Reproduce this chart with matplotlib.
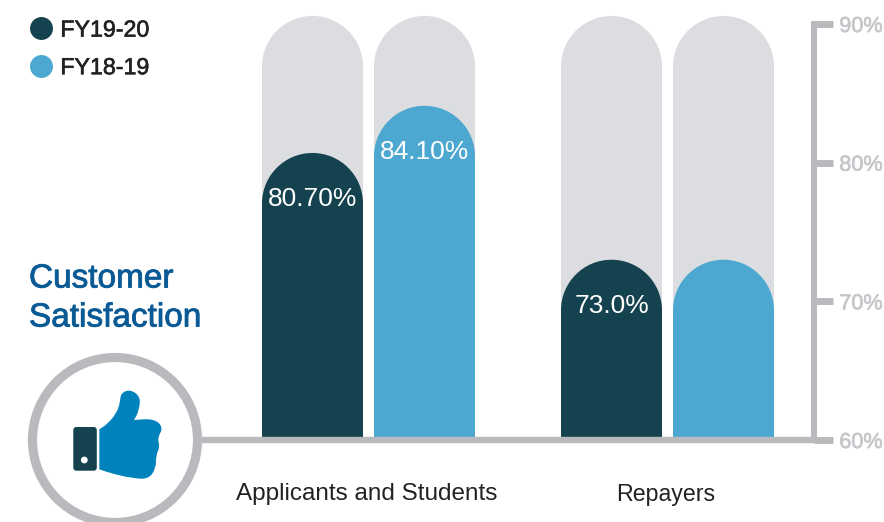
"""Customer satisfaction by borrower group, two fiscal years, on a 60-90% axis."""
import matplotlib; matplotlib.use("Agg")
import matplotlib.pyplot as plt
import matplotlib.patheffects as pe
from matplotlib.lines import Line2D
from matplotlib.patches import Circle, FancyBboxPatch, PathPatch
from matplotlib.path import Path

plt.rcParams["font.family"] = ["Liberation Sans", "DejaVu Sans"]

SERIES = ["FY19-20", "FY18-19"]
GROUPS = ["Applicants and Students", "Repayers"]
FY1920 = [80.7, 73.0]
FY1819 = [84.1, 73.0]
LABELS_1920 = ["80.70%", "73.0%"]
LABELS_1819 = ["84.10%", ""]
TICKS = [60, 70, 80, 90]
TICK_LABELS = ["60%", "70%", "80%", "90%"]

DARK, LIGHT, TRACK = "#14434f", "#4ca8d0", "#dcdde0"
AXIS, AXIS_TXT, TITLE, THUMB = "#b9babe", "#c6c7ca", "#0a5a96", "#0082bd"
W, H = 884, 522
Y0, Y1 = 440, 24  # pixel rows of the 60% and 90% ticks
BAR_LEFT = [[262, 561], [374, 673]]
BAR_W = 101
TRACK_TOP = 90.58


def rounded_bar(x0, width, top, ry, base=60):
    # bar with a fully round cap, ry is the cap radius in y units
    r, k = width / 2, 0.5523
    x1, xm, ys = x0 + width, x0 + width / 2, top - ry
    verts = [(x0, base), (x0, ys),
             (x0, ys + k * ry), (xm - k * r, top), (xm, top),
             (xm + k * r, top), (x1, ys + k * ry), (x1, ys),
             (x1, base), (x0, base)]
    codes = [Path.MOVETO, Path.LINETO] + [Path.CURVE4] * 6 + [Path.LINETO, Path.CLOSEPOLY]
    return Path(verts, codes)


def smooth(points):
    # quadratic spline through the midpoints of a closed outline
    n = len(points)
    mid = lambda a, b: ((a[0] + b[0]) / 2, (a[1] + b[1]) / 2)
    verts, codes = [mid(points[-1], points[0])], [Path.MOVETO]
    for i in range(n):
        verts += [points[i], mid(points[i], points[(i + 1) % n])]
        codes += [Path.CURVE3, Path.CURVE3]
    return Path(verts, codes)


def medium(txt, width=0.45):
    # Liberation has no medium weight, thicken the regular slightly
    txt.set_path_effects([pe.withStroke(linewidth=width, foreground=txt.get_color())])


fig = plt.figure(figsize=(W / 100, H / 100), dpi=100, facecolor="white")

# chart axes: x runs in pixels, y in percent
ax = fig.add_axes([0, (H - Y0) / H, 1, (Y0 - Y1) / H])
ax.set_xlim(0, W); ax.set_ylim(60, 90)
ax.patch.set_visible(False)
ry = (BAR_W / 2) * 30 / (Y0 - Y1)

for lefts, vals, labels, col in zip(BAR_LEFT, [FY1920, FY1819], [LABELS_1920, LABELS_1819], [DARK, LIGHT]):
    for x0, v, lab in zip(lefts, vals, labels):
        ax.add_patch(PathPatch(rounded_bar(x0, BAR_W, TRACK_TOP, ry), fc=TRACK, ec="none", clip_on=False, zorder=1))
        ax.add_patch(PathPatch(rounded_bar(x0, BAR_W, v, ry), fc=col, ec="none", clip_on=False, zorder=2))
        if lab:
            ax.annotate(lab, (x0 + BAR_W / 2, v), xytext=(0, -33), textcoords="offset points",
                        ha="center", va="center", color="white", fontsize=19, zorder=3)

for s in ["top", "left"]:
    ax.spines[s].set_visible(False)
ax.spines["right"].set_position(("data", 814))
ax.spines["right"].set_linewidth(4.3); ax.spines["right"].set_color(AXIS)
ax.spines["right"].set_bounds(60, 90)
ax.spines["bottom"].set_linewidth(4.6); ax.spines["bottom"].set_color(AXIS)
ax.spines["bottom"].set_bounds(200, 814)
ax.yaxis.tick_right()
ax.set_yticks(TICKS); ax.set_yticklabels(TICK_LABELS)
ax.tick_params(axis="y", direction="out", length=13.7, width=5, color=AXIS, pad=4.5,
               labelcolor=AXIS_TXT, labelsize=15.6)
for tl in ax.get_yticklabels():
    medium(tl, 0.5)

ax.set_xticks([BAR_LEFT[0][0] + 105, BAR_LEFT[0][1] + 105])
ax.set_xticklabels(GROUPS, color="#222222")
ax.tick_params(axis="x", length=0, pad=31)
for tl, size in zip(ax.get_xticklabels(), [17.5, 16.7]):
    tl.set_fontsize(size)

handles = [Line2D([], [], ls="none", marker="o", ms=16.5, mfc=c, mec="none") for c in [DARK, LIGHT]]
leg = ax.legend(handles, SERIES, loc="upper left", bbox_to_anchor=(29.5 / W, 1.013), frameon=False,
                fontsize=16.7, labelspacing=0.63, handlelength=1, handletextpad=0.33,
                borderpad=0, borderaxespad=0, labelcolor="#222222")
for t in leg.get_texts():
    medium(t)

# pixel overlay for the heading and the thumbs-up badge
ov = fig.add_axes([0, 0, 1, 1], zorder=5)
ov.set_xlim(0, W); ov.set_ylim(H, 0); ov.axis("off")
for y, line in [(279, "Customer"), (318, "Satisfaction")]:
    medium(ov.text(29, y, line, color=TITLE, fontsize=24, va="center", ha="left"), 0.6)
ov.add_patch(Circle((115, 440), 82.5, fc="white", ec=AXIS, lw=6.6))
ov.add_patch(FancyBboxPatch((75.3, 429), 19.5, 39.7, boxstyle="round,pad=2,rounding_size=3", fc=DARK, ec="none"))
ov.add_patch(Circle((84.3, 460), 3.4, fc="white", ec="none"))

thumb_zoom = [(298, 268), (298, 268), (322, 252), (348, 222), (360, 190), (362, 160), (390, 148),
              (422, 170), (416, 215), (402, 240), (402, 240), (462, 236), (490, 262), (472, 295),
              (480, 320), (468, 345), (468, 385), (445, 418), (395, 414), (340, 402), (298, 388), (298, 388)]
thumb = [(x / 3, 340 + y / 3) for x, y in thumb_zoom]
ov.add_patch(PathPatch(smooth(thumb), fc=THUMB, ec="none"))

fig.savefig("out.png", dpi=100)
